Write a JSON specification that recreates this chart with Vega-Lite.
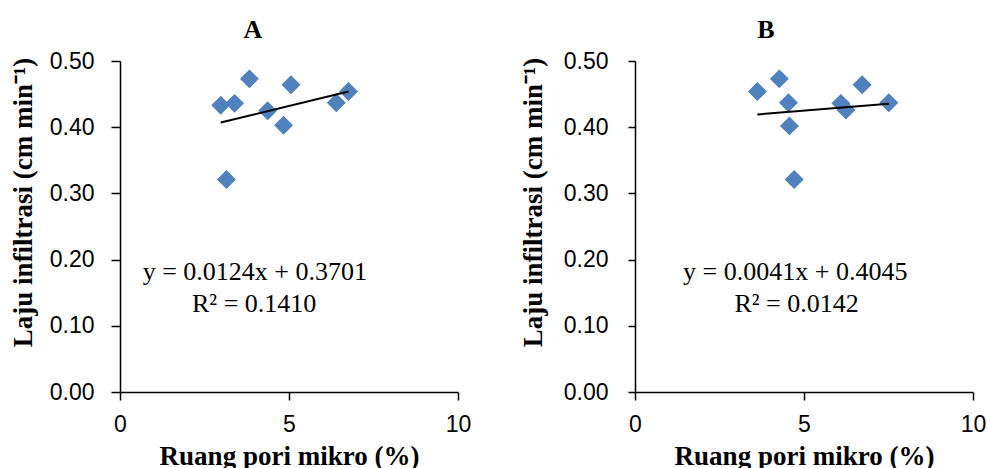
{
  "$schema": "https://vega.github.io/schema/vega-lite/v6.json",
  "background": "white",
  "padding": {"left": 8, "top": 17, "right": 0, "bottom": 0},
  "spacing": 177,
  "bounds": "flush",
  "config": {
    "view": {"stroke": null},
    "axis": {"grid": false, "domainColor": "black", "tickColor": "black", "domainWidth": 1.5, "tickWidth": 1.5,
      "labelFont": "Liberation Sans", "labelFontSize": 23, "labelColor": "black",
      "titleFont": "Liberation Serif", "titleFontSize": 27, "titleFontWeight": "bold", "titleColor": "black"},
    "title": {"font": "Liberation Serif", "fontSize": 26, "fontWeight": "bold", "color": "black"}
  },
  "hconcat": [
    {
      "width": 338, "height": 331,
      "title": {"text": "A", "dx": -36, "baseline": "alphabetic", "offset": -14},
      "layer": [
        {
          "data": {"values": [
            {"x": 2.98, "y": 0.433}, {"x": 3.39, "y": 0.436}, {"x": 3.83, "y": 0.473},
            {"x": 4.37, "y": 0.425}, {"x": 4.84, "y": 0.403}, {"x": 5.06, "y": 0.464},
            {"x": 6.40, "y": 0.437}, {"x": 6.76, "y": 0.454}, {"x": 3.15, "y": 0.321}
          ]},
          "mark": {"type": "point", "shape": "diamond", "filled": true, "size": 360, "color": "#4F81BD", "opacity": 1},
          "encoding": {
            "x": {"field": "x", "type": "quantitative", "scale": {"domain": [0, 10], "nice": false},
              "axis": {"values": [0, 5, 10], "title": "Ruang pori mikro (%)", "tickSize": 8, "labelPadding": 13, "labelFlush": false, "titleY": 72, "titleBaseline": "alphabetic"}},
            "y": {"field": "y", "type": "quantitative", "scale": {"domain": [0, 0.5], "nice": false},
              "axis": {"values": [0, 0.1, 0.2, 0.3, 0.4, 0.5], "format": ".2f", "title": "Laju infiltrasi (cm min⁻¹)", "tickSize": 9, "labelPadding": 17, "titleX": -83, "titleY": 141}}
          }
        },
        {
          "data": {"values": [{"x": 2.98, "y": 0.4071}, {"x": 6.76, "y": 0.4539}]},
          "mark": {"type": "line", "color": "black", "strokeWidth": 2},
          "encoding": {"x": {"field": "x", "type": "quantitative"}, "y": {"field": "y", "type": "quantitative"}}
        },
        {
          "data": {"values": [{"x": 3.99, "y": 0.1813, "label": "y = 0.0124x + 0.3701"}, {"x": 3.97, "y": 0.1329, "label": "R² = 0.1410"}]},
          "mark": {"type": "text", "font": "Liberation Serif", "fontSize": 26, "color": "black", "baseline": "middle"},
          "encoding": {"x": {"field": "x", "type": "quantitative"}, "y": {"field": "y", "type": "quantitative"}, "text": {"field": "label"}}
        }
      ]
    },
    {
      "width": 338, "height": 331,
      "title": {"text": "B", "dx": -38, "baseline": "alphabetic", "offset": -14},
      "layer": [
        {
          "data": {"values": [
            {"x": 3.62, "y": 0.454}, {"x": 4.27, "y": 0.473}, {"x": 4.54, "y": 0.437},
            {"x": 4.57, "y": 0.402}, {"x": 4.71, "y": 0.321}, {"x": 6.09, "y": 0.436},
            {"x": 6.24, "y": 0.426}, {"x": 6.72, "y": 0.464}, {"x": 7.51, "y": 0.437}
          ]},
          "mark": {"type": "point", "shape": "diamond", "filled": true, "size": 360, "color": "#4F81BD", "opacity": 1},
          "encoding": {
            "x": {"field": "x", "type": "quantitative", "scale": {"domain": [0, 10], "nice": false},
              "axis": {"values": [0, 5, 10], "title": "Ruang pori mikro (%)", "tickSize": 8, "labelPadding": 13, "labelFlush": false, "titleY": 72, "titleBaseline": "alphabetic"}},
            "y": {"field": "y", "type": "quantitative", "scale": {"domain": [0, 0.5], "nice": false},
              "axis": {"values": [0, 0.1, 0.2, 0.3, 0.4, 0.5], "format": ".2f", "title": "Laju infiltrasi (cm min⁻¹)", "tickSize": 7, "labelPadding": 20, "titleX": -88, "titleY": 141}}
          }
        },
        {
          "data": {"values": [{"x": 3.62, "y": 0.4193}, {"x": 7.51, "y": 0.4353}]},
          "mark": {"type": "line", "color": "black", "strokeWidth": 2},
          "encoding": {"x": {"field": "x", "type": "quantitative"}, "y": {"field": "y", "type": "quantitative"}}
        },
        {
          "data": {"values": [{"x": 4.74, "y": 0.1813, "label": "y = 0.0041x + 0.4045"}, {"x": 4.78, "y": 0.1329, "label": "R² = 0.0142"}]},
          "mark": {"type": "text", "font": "Liberation Serif", "fontSize": 26, "color": "black", "baseline": "middle"},
          "encoding": {"x": {"field": "x", "type": "quantitative"}, "y": {"field": "y", "type": "quantitative"}, "text": {"field": "label"}}
        }
      ]
    }
  ]
}
